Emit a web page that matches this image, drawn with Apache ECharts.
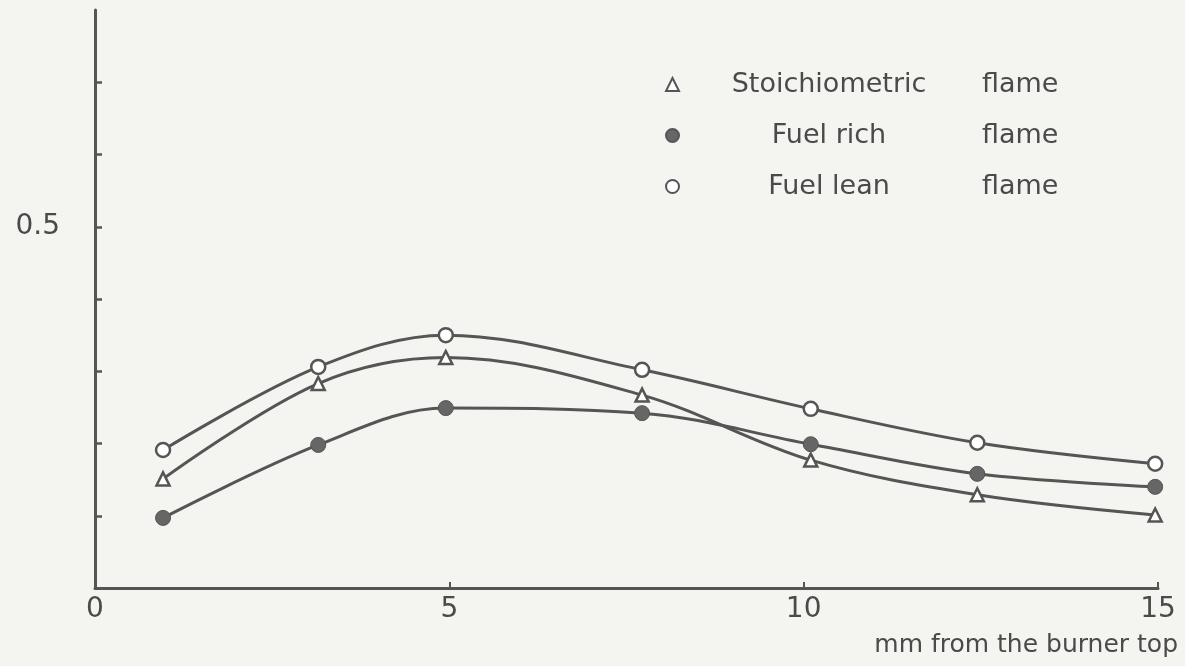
<!DOCTYPE html>
<html>
<head>
<meta charset="utf-8">
<script src="https://cdn.jsdelivr.net/npm/echarts@6/dist/echarts.min.js"></script>
<style>
  html, body { margin: 0; padding: 0; background: #f4f4f1; }
  #chart { width: 1185px; height: 666px; }
</style>
</head>
<body>
<div id="chart"></div>
<script>
// distance from burner top (mm)
var distance = [0.96, 3.15, 4.95, 7.72, 10.1, 12.45, 14.96];
// absorbance readings
var stoichiometric = [0.151, 0.283, 0.319, 0.267, 0.177, 0.129, 0.101];
var fuelRich = [0.097, 0.198, 0.249, 0.242, 0.199, 0.158, 0.140];
var fuelLean = [0.191, 0.306, 0.350, 0.302, 0.248, 0.201, 0.172];
var yTicks = [0.1, 0.2, 0.3, 0.4, 0.5, 0.6, 0.7];
var xTicks = [0, 5, 10, 15];

var ink = '#4a4a4a';
var font = 'DejaVu Sans';

function pairs(ys) {
  return distance.map(function (x, i) { return [x, ys[i]]; });
}

var chart = echarts.init(document.getElementById('chart'));
chart.setOption({
  backgroundColor: '#f4f4f1',
  animation: false,
  grid: { left: 95, right: 27, top: 10, bottom: 78 },
  graphic: [
    {
      // axis title, cut off by the top edge as in the scan
      type: 'text', x: 62, y: -23,
      style: { text: 'ABSORBANCE', fill: '#777', font: '26px ' + font }
    },
    {
      type: 'text', right: 7, top: 633,
      style: { text: 'mm from the burner top', fill: ink, font: '25px ' + font }
    }
  ],
  legend: {
    orient: 'vertical',
    left: 660,
    top: 66,
    itemGap: 24,
    itemWidth: 13,
    itemHeight: 13,
    data: [
      { name: 'Stoichiometric', icon: 'triangle' },
      { name: 'Fuel rich', icon: 'circle' },
      { name: 'Fuel lean', icon: 'circle' }
    ],
    formatter: function (name) { return '{n|' + name + '}{f|flame}'; },
    textStyle: {
      color: ink,
      fontFamily: font,
      fontSize: 27,
      rich: {
        n: { width: 290, align: 'center', fontSize: 27, fontFamily: font, color: ink, lineHeight: 33 },
        f: { padding: [0, 0, 0, 8], fontSize: 27, fontFamily: font, color: ink, lineHeight: 33 }
      }
    }
  },
  xAxis: {
    type: 'value',
    min: 0, max: 15, interval: 5,
    splitLine: { show: false },
    axisLine: { lineStyle: { color: '#555', width: 3 } },
    axisTick: { inside: true, length: 6, customValues: xTicks, lineStyle: { color: '#555', width: 2 } },
    axisLabel: { margin: 8, color: ink, fontSize: 28, fontFamily: font }
  },
  yAxis: {
    type: 'value',
    min: 0, max: 0.8, interval: 0.1,
    splitLine: { show: false },
    axisLine: { lineStyle: { color: '#555', width: 3 } },
    axisTick: { inside: true, length: 7, customValues: yTicks, lineStyle: { color: '#555', width: 2.5 } },
    axisLabel: {
      margin: 35, color: ink, fontSize: 28, fontFamily: font,
      formatter: function (v) { return Math.abs(v - 0.5) < 1e-6 ? '0.5' : ''; }
    }
  },
  series: [
    {
      name: 'Stoichiometric', type: 'line', smooth: 0.35,
      data: pairs(stoichiometric),
      symbol: 'triangle', symbolSize: 13,
      lineStyle: { color: '#555', width: 3 },
      itemStyle: { color: '#fff', borderColor: '#555', borderWidth: 2.5 }
    },
    {
      name: 'Fuel rich', type: 'line', smooth: 0.35,
      data: pairs(fuelRich),
      symbol: 'circle', symbolSize: 15,
      lineStyle: { color: '#555', width: 3 },
      itemStyle: { color: '#666', borderColor: '#555', borderWidth: 1 }
    },
    {
      name: 'Fuel lean', type: 'line', smooth: 0.35,
      data: pairs(fuelLean),
      symbol: 'circle', symbolSize: 14,
      lineStyle: { color: '#555', width: 3 },
      itemStyle: { color: '#fff', borderColor: '#555', borderWidth: 2.5 }
    }
  ]
});
</script>
</body>
</html>
